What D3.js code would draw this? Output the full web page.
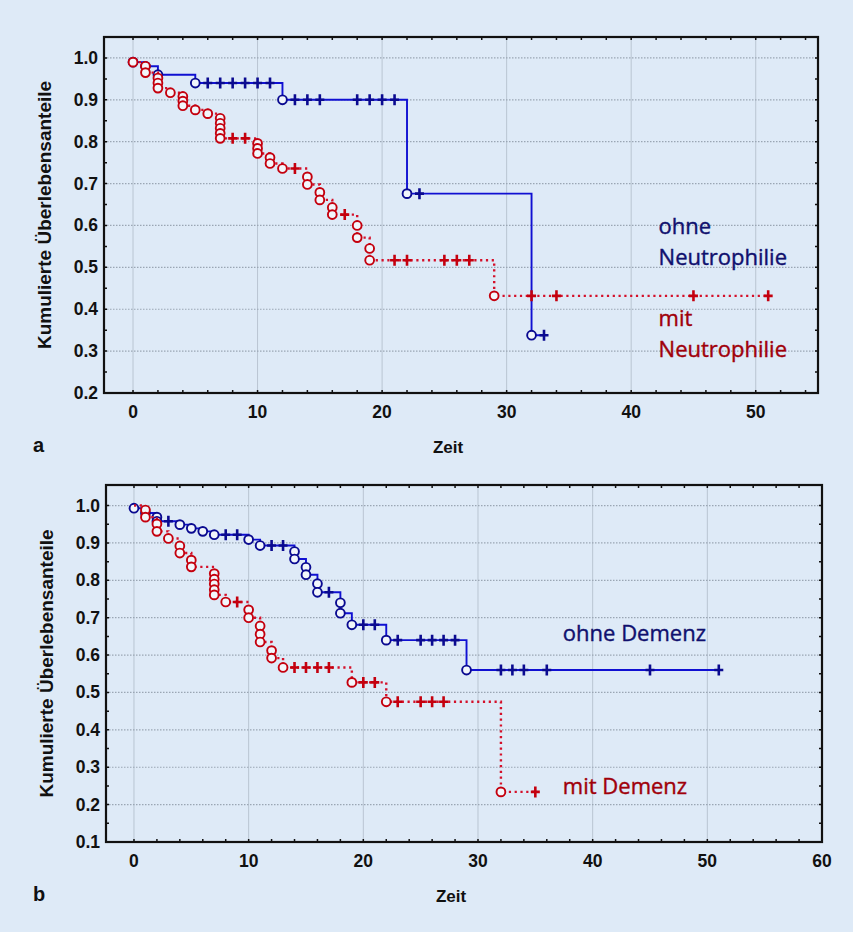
<!DOCTYPE html>
<html>
<head>
<meta charset="utf-8">
<title>Kaplan-Meier Überlebenskurven</title>
<style>
    body { margin: 0; background: #deeaf7; }
    svg { display: block; }
    .tick-label { font-family: "Liberation Sans", Arial, sans-serif; font-size: 17.5px; font-weight: bold; fill: #111; }
    .axis-title { font-family: "Liberation Sans", Arial, sans-serif; font-weight: bold; fill: #111; }
    .curve-label { font-family: "Open Sans", sans-serif; font-size: 22px; }
</style>
</head>
<body>
<div id="chart"></div>
<script src="https://d3js.org/d3.v7.min.js"></script>
<script>
// Panel a: Neutrophilie
var aOhneEvents = [[0, 0.99], [1, 0.98], [2, 0.96], [5, 0.94], [12, 0.90], [22, 0.676], [32, 0.338]];
var aOhneCensored = [6, 7, 8, 9, 10, 11, 13, 14, 15, 18, 19, 20, 21, 23, 33];
var aMitEvents = [[0, 0.99], [1, 0.98], [1, 0.965], [2, 0.952], [2, 0.94], [2, 0.928], [3, 0.917],
    [4, 0.908], [4, 0.897], [4, 0.886], [5, 0.876], [6, 0.867], [7, 0.856], [7, 0.844], [7, 0.832],
    [7, 0.820], [7, 0.808], [10, 0.796], [10, 0.784], [10, 0.772], [11, 0.762], [11, 0.748], [12, 0.736],
    [14, 0.716], [14, 0.698], [15, 0.679], [15, 0.661], [16, 0.643], [16, 0.626], [18, 0.600], [18, 0.571],
    [19, 0.545], [19, 0.517], [29, 0.432]];
var aMitCensored = [8, 9, 13, 17, 21, 22, 25, 26, 27, 32, 34, 45, 51];

// Panel b: Demenz
var bOhneEvents = [[0, 0.993], [1, 0.98], [2, 0.969], [2, 0.958], [4, 0.949], [5, 0.939], [6, 0.931],
    [7, 0.922], [10, 0.909], [11, 0.893], [14, 0.877], [14, 0.857], [15, 0.835], [15, 0.815], [16, 0.791],
    [16, 0.768], [18, 0.740], [18, 0.712], [19, 0.681], [22, 0.640], [29, 0.560]];
var bOhneCensored = [3, 8, 9, 12, 13, 17, 20, 21, 23, 25, 26, 27, 28, 32, 33, 34, 36, 45, 51];
var bMitStart = [0, 1.0];
var bMitEvents = [[1, 0.988], [1, 0.969], [2, 0.951], [2, 0.931], [3, 0.912], [4, 0.892], [4, 0.873],
    [5, 0.854], [5, 0.836], [7, 0.818], [7, 0.803], [7, 0.790], [7, 0.775], [7, 0.761], [8, 0.742],
    [10, 0.721], [10, 0.700], [11, 0.678], [11, 0.656], [11, 0.635], [12, 0.612], [12, 0.592], [13, 0.567],
    [19, 0.527], [22, 0.475], [32, 0.234]];
var bMitCensored = [9, 14, 15, 16, 17, 20, 21, 23, 25, 26, 27, 35];

var xTicksA = [0, 10, 20, 30, 40, 50];
var xTicksB = [0, 10, 20, 30, 40, 50, 60];
var yTicksA = [0.2, 0.3, 0.4, 0.5, 0.6, 0.7, 0.8, 0.9, 1.0];
var yTicksB = [0.1, 0.2, 0.3, 0.4, 0.5, 0.6, 0.7, 0.8, 0.9, 1.0];

var blue = "#1010d2", blueDark = "#0a0a90", blueText = "#10106e";
var red = "#d4102a", redDark = "#c4000e", redText = "#a0000a";

var svg = d3.select("#chart").append("svg")
    .attr("width", 853)
    .attr("height", 932);

svg.append("rect").attr("width", 853).attr("height", 932).attr("fill", "#deeaf7");

function drawPanel(cfg) {
    var x = d3.scaleLinear().domain(cfg.xDomain).range([cfg.left, cfg.right]);
    var y = d3.scaleLinear().domain(cfg.yDomain).range([cfg.bottom, cfg.top]);
    var g = svg.append("g");

    // grid
    g.selectAll(".vgrid").data(cfg.xTicks).enter().append("line")
        .attr("x1", d => x(d)).attr("x2", d => x(d))
        .attr("y1", cfg.top).attr("y2", cfg.bottom)
        .attr("stroke", "#b9c5d2").attr("stroke-width", 1);
    g.selectAll(".hgrid").data(cfg.yTicks).enter().append("line")
        .attr("x1", cfg.left).attr("x2", cfg.right)
        .attr("y1", d => y(d)).attr("y2", d => y(d))
        .attr("stroke", "#9aa6b4").attr("stroke-width", 1.2)
        .attr("stroke-dasharray", "1.5,1.5");

    // minor ticks (inside frame)
    var xMinor = d3.range(0, cfg.xDomain[1] + 0.01, 2);
    g.selectAll(".xminor").data(xMinor).enter().append("path")
        .attr("d", d => "M" + x(d) + "," + cfg.bottom + "v-3M" + x(d) + "," + cfg.top + "v3")
        .attr("stroke", "#111").attr("stroke-width", 1.5);
    var yMinor = d3.range(cfg.yDomain[0], 1.0001, 0.05);
    g.selectAll(".yminor").data(yMinor).enter().append("path")
        .attr("d", d => "M" + cfg.left + "," + y(d) + "h3M" + cfg.right + "," + y(d) + "h-3")
        .attr("stroke", "#111").attr("stroke-width", 1.5);

    // frame
    g.append("rect")
        .attr("x", cfg.left).attr("y", cfg.top)
        .attr("width", cfg.right - cfg.left).attr("height", cfg.bottom - cfg.top)
        .attr("fill", "none").attr("stroke", "#111").attr("stroke-width", 2.2);

    // tick labels
    g.selectAll(".xl").data(cfg.xTicks).enter().append("text")
        .attr("class", "tick-label")
        .attr("x", d => x(d)).attr("y", cfg.bottom + 25)
        .attr("text-anchor", "middle")
        .text(d => d);
    g.selectAll(".yl").data(cfg.yTicks).enter().append("text")
        .attr("class", "tick-label")
        .attr("x", cfg.left - 6).attr("y", d => y(d) + 6)
        .attr("text-anchor", "end")
        .text(d => d3.format(".1f")(d));

    // axis titles
    g.append("text").attr("class", "axis-title")
        .attr("font-size", 17)
        .attr("x", (cfg.left + cfg.right) / 2 - 13).attr("y", cfg.bottom + 60)
        .attr("text-anchor", "middle").text("Zeit");
    g.append("text").attr("class", "axis-title")
        .attr("font-size", 19)
        .attr("transform", "translate(" + (cfg.left - 53) + "," + ((cfg.top + cfg.bottom) / 2) + ") rotate(-90)")
        .attr("text-anchor", "middle").text("Kumulierte Überlebensanteile");
    g.append("text").attr("class", "axis-title")
        .attr("font-size", 20)
        .attr("x", 33).attr("y", cfg.bottom + 59)
        .text(cfg.letter);

    var line = d3.line()
        .x(d => x(d[0])).y(d => y(d[1]))
        .curve(d3.curveStepAfter);

    cfg.series.forEach(function(s) {
        var pts = s.start ? [s.start].concat(s.events) : s.events.slice();
        var last = pts[pts.length - 1];
        var tEnd = d3.max(s.censored);
        pts.push([tEnd, last[1]]);

        g.append("path")
            .attr("d", line(pts))
            .attr("fill", "none")
            .attr("stroke", s.color)
            .attr("stroke-width", s.dotted ? 2.4 : 1.9)
            .attr("stroke-dasharray", s.dotted ? "2.2,3.6" : null);

        // survival level at each censored time
        function level(t) {
            var v = s.start ? s.start[1] : 1;
            s.events.forEach(function(e) { if (e[0] <= t) v = e[1]; });
            return v;
        }

        g.selectAll(null).data(s.censored).enter().append("path")
            .attr("d", d => "M" + (x(d) - 4.5) + "," + y(level(d)) + "h9M" + x(d) + "," + (y(level(d)) - 5.5) + "v11")
            .attr("stroke", s.dark).attr("stroke-width", 2.6);

        g.selectAll(null).data(s.events).enter().append("circle")
            .attr("cx", d => x(d[0])).attr("cy", d => y(d[1]))
            .attr("r", 4.4)
            .attr("fill", "#f2f6fb")
            .attr("stroke", s.dark).attr("stroke-width", 1.9);
    });

    cfg.labels.forEach(function(l) {
        g.append("text").attr("class", "curve-label")
            .attr("x", x(l.t)).attr("y", y(l.s))
            .attr("fill", l.color)
            .attr("stroke", l.color).attr("stroke-width", 0.4)
            .text(l.text);
    });
}

drawPanel({
    letter: "a",
    left: 104, right: 818, top: 37, bottom: 393,
    xDomain: [-2.33, 55], yDomain: [0.2, 1.05],
    xTicks: xTicksA, yTicks: yTicksA,
    series: [
        { events: aOhneEvents, censored: aOhneCensored, color: blue, dark: blueDark, dotted: false },
        { events: aMitEvents, censored: aMitCensored, color: red, dark: redDark, dotted: true }
    ],
    labels: [
        { text: "ohne", t: 42.2, s: 0.579, color: blueText },
        { text: "Neutrophilie", t: 42.2, s: 0.505, color: blueText },
        { text: "mit", t: 42.2, s: 0.36, color: redText },
        { text: "Neutrophilie", t: 42.2, s: 0.286, color: redText }
    ]
});

drawPanel({
    letter: "b",
    left: 106, right: 822, top: 485, bottom: 842,
    xDomain: [-2.44, 60], yDomain: [0.1, 1.055],
    xTicks: xTicksB, yTicks: yTicksB,
    series: [
        { events: bOhneEvents, censored: bOhneCensored, color: blue, dark: blueDark, dotted: false },
        { start: bMitStart, events: bMitEvents, censored: bMitCensored, color: red, dark: redDark, dotted: true }
    ],
    labels: [
        { text: "ohne Demenz", t: 37.4, s: 0.638, color: blueText },
        { text: "mit Demenz", t: 37.4, s: 0.228, color: redText }
    ]
});
</script>
</body>
</html>
